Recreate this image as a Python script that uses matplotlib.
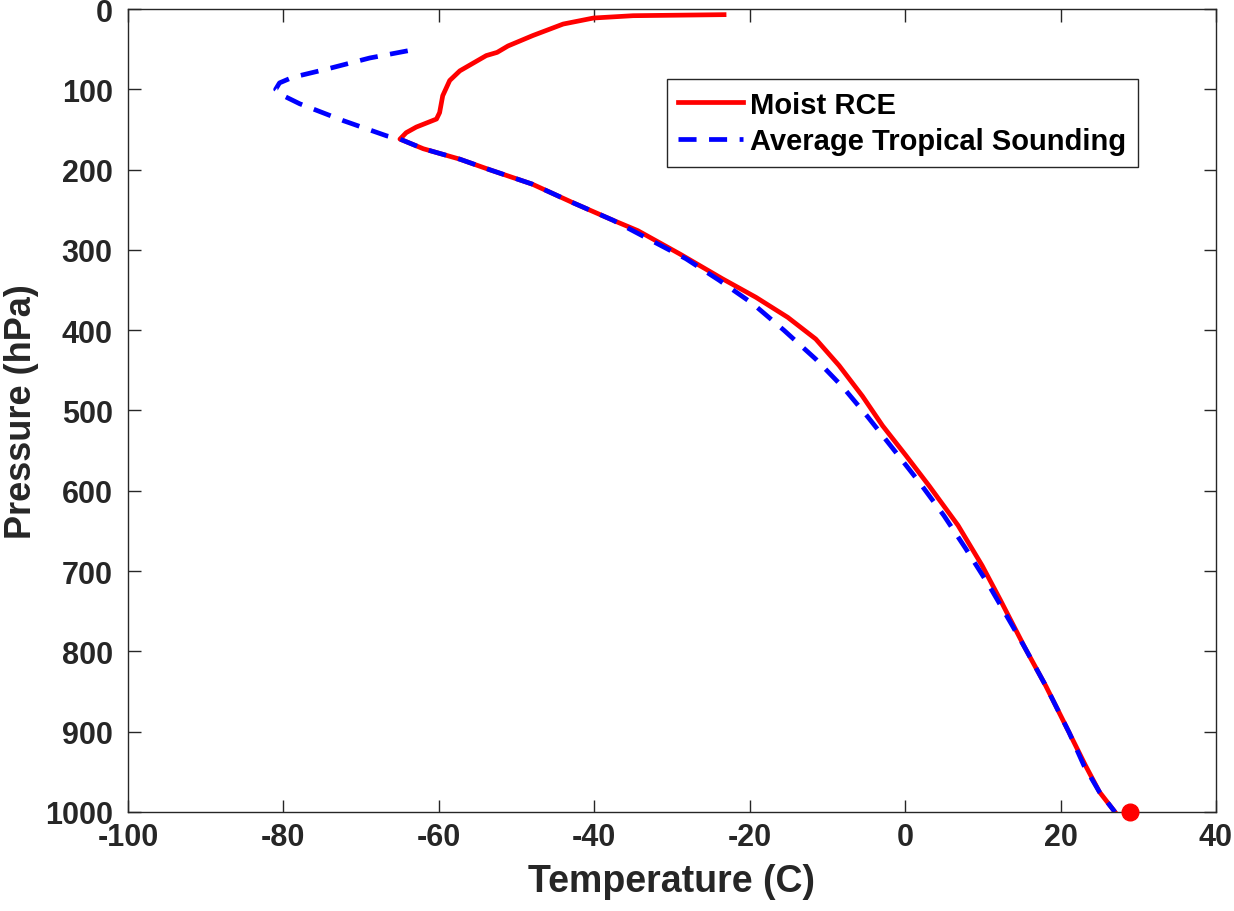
import matplotlib
matplotlib.use("Agg")
import matplotlib.pyplot as plt
import numpy as np

plt.rcParams['font.family'] = ['Liberation Sans', 'DejaVu Sans']
plt.rcParams['font.weight'] = 'bold'
plt.rcParams['lines.scale_dashes'] = False
plt.rcParams['axes.unicode_minus'] = False

# Moist RCE profile (pressure hPa, temperature C)
rce_p = [7, 8.3, 11.2, 18.7, 33, 46, 54, 58, 77, 89, 108, 129, 137, 147, 154, 162,
         174, 187, 200, 218, 241, 263, 276, 305, 336, 359, 384, 411, 444, 482, 519,
         556, 594, 643, 693, 735, 797, 843, 901, 942, 975, 1000]
rce_t = [-23.3, -35.0, -40.1, -44.0, -47.9, -51.1, -52.5, -53.9, -57.3, -58.6, -59.5,
         -59.9, -60.3, -62.9, -64.2, -65.0, -62.0, -57.3, -53.5, -48.0, -42.8, -37.6,
         -34.4, -29.0, -23.5, -19.2, -15.1, -11.5, -8.5, -5.5, -2.9, 0.1, 3.1, 6.8,
         9.9, 12.2, 15.5, 18.1, 21.1, 23.2, 25.0, 27.0]

# Average tropical sounding
snd_p = [52, 61, 75, 85, 92, 100, 108, 118, 139, 158, 162, 174, 187, 200, 218, 241,
         263, 286, 311, 338, 367, 400, 436, 471, 508, 552, 589, 631, 672, 718, 768,
         797, 843, 901, 942, 975, 1000]
snd_t = [-64.0, -68.9, -74.5, -78.8, -80.5, -81.0, -80.0, -77.9, -72.3, -66.7, -65.0,
         -62.0, -57.3, -53.5, -48.0, -42.8, -37.6, -33.1, -28.2, -23.9, -19.6, -15.6,
         -11.5, -8.0, -4.8, -1.2, 1.8, 5.0, 7.8, 10.8, 13.8, 15.5, 18.1, 21.1, 23.0,
         25.0, 27.0]

# surface point
sfc_t = [29.0]
sfc_p = [1000]

xticks = np.arange(-100, 41, 20)
yticks = np.arange(0, 1001, 100)

fig = plt.figure(figsize=(12.34, 9.12), dpi=100)
ax = fig.add_axes([0.1037, 0.1086, 0.8817, 0.8804])

ax.plot(rce_t, rce_p, color='#ff0000', lw=3.4, label='Moist RCE', solid_joinstyle='round')
ax.plot(snd_t, snd_p, color='#0000ff', lw=3.4, dashes=(13, 9), label='Average Tropical Sounding')
ax.plot(sfc_t, sfc_p, 'o', color='#ff0000', ms=12, clip_on=False, zorder=5)

ax.set_xlim(-100, 40)
ax.set_ylim(1000, 0)
ax.set_xticks(xticks)
ax.set_yticks(yticks)
ax.tick_params(direction='in', length=9, width=1, colors='#262626', labelsize=22,
               top=True, right=True)
ax.tick_params(axis='y', pad=11)
ax.tick_params(axis='x', pad=7)
for lab in ax.get_xticklabels() + ax.get_yticklabels():
    lab.set_fontweight('bold')
for s in ax.spines.values():
    s.set_color('#262626')
    s.set_linewidth(1)

ax.set_xlabel('Temperature (C)', fontsize=27, fontweight='bold', color='#262626', labelpad=8)
ax.set_ylabel('Pressure (hPa)', fontsize=26, fontweight='bold', color='#262626', labelpad=4)

leg = ax.legend(loc='upper right', bbox_to_anchor=(0.928, 0.913), fancybox=False,
                framealpha=1, edgecolor='#262626', fontsize=21, handlelength=2.2,
                borderpad=0.4, labelspacing=0.3, handletextpad=0.25, borderaxespad=0)
leg.get_frame().set_linewidth(1)
for t in leg.get_texts():
    t.set_fontweight('bold')

fig.savefig('out.png', dpi=100)
